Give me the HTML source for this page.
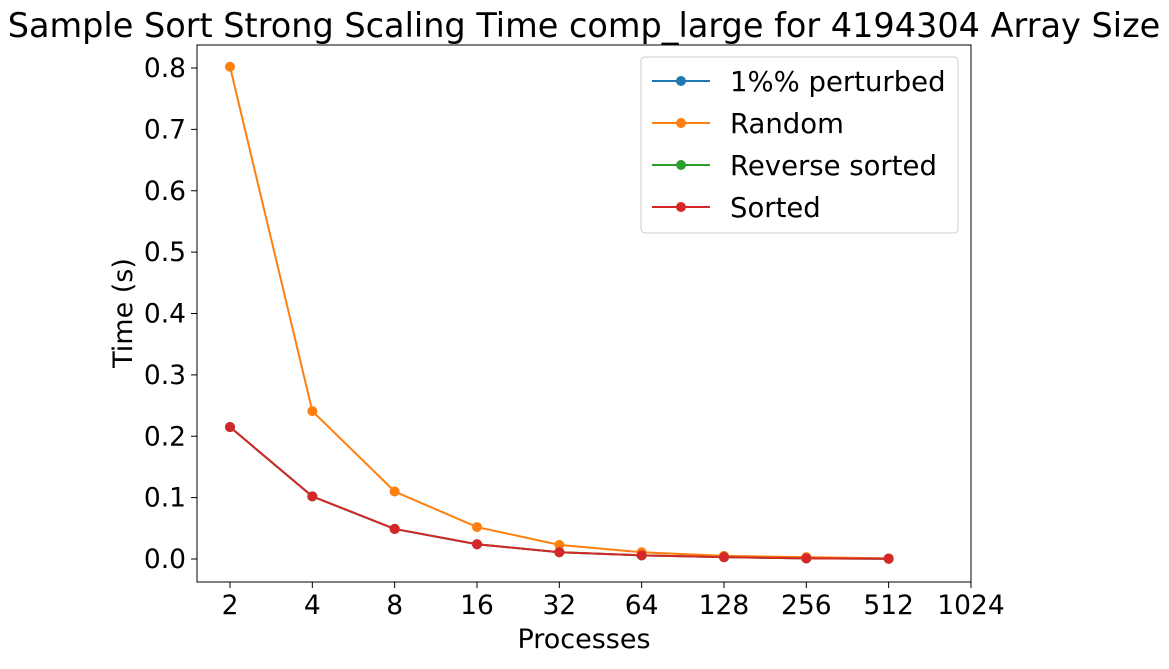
<!DOCTYPE html>
<html><head><meta charset="utf-8"><style>
body{margin:0;background:#fff;}
svg text{font-family:"DejaVu Sans","Liberation Sans",sans-serif;fill:#000;}
</style></head><body>
<svg id="chart" width="1169" height="664" xmlns="http://www.w3.org/2000/svg">
<text x="584" y="37" font-size="33.5" text-anchor="middle">Sample Sort Strong Scaling Time comp_large for 4194304 Array Size</text>
<rect x="197" y="45" width="774" height="537" fill="none" stroke="#000" stroke-width="1"/>
<g id="xticks"></g><g id="yticks"></g><g id="series"></g>
<text x="584" y="648" font-size="27" text-anchor="middle">Processes</text>
<text transform="translate(132,313) rotate(-90)" font-size="27" text-anchor="middle">Time (s)</text>
<g>
<rect x="641" y="57" width="317" height="176" rx="4" fill="#fff" fill-opacity="0.8" stroke="#ccc"/>
<g id="legend-items"></g>
</g>
</svg>
<script>
const xCats=[2,4,8,16,32,64,128,256,512];
const xTickLabels=["2","4","8","16","32","64","128","256","512","1024"];
const yTickLabels=["0.0","0.1","0.2","0.3","0.4","0.5","0.6","0.7","0.8"];
const seriesNames=["1%% perturbed","Random","Reverse sorted","Sorted"];
const colors=["#1f77b4","#ff7f0e","#2ca02c","#d62728"];
const perturbed=[0.215,0.102,0.049,0.024,0.011,0.006,0.003,0.001,0.0005];
const randomV=[0.802,0.241,0.110,0.052,0.023,0.011,0.005,0.003,0.001];
const reverse=[0.215,0.102,0.049,0.024,0.011,0.006,0.003,0.001,0.0005];
const sorted=[0.215,0.102,0.049,0.024,0.011,0.006,0.003,0.001,0.0005];
const allSeries=[perturbed,randomV,reverse,sorted];
const NS="http://www.w3.org/2000/svg";
const xs=v=>230+(Math.log2(v)-1)*82.33;
const ys=v=>559-v*613.75;
function mk(t,a,p){const e=document.createElementNS(NS,t);for(const k in a)e.setAttribute(k,a[k]);p.appendChild(e);return e;}
const xt=document.getElementById('xticks');
xTickLabels.forEach(l=>{const x=xs(+l);
const t=mk('line',{x1:x,x2:x,y1:582,y2:588,stroke:'#000'},xt);


const tx=mk('text',{x:x,y:614,'font-size':26.5,'text-anchor':'middle'},xt);tx.textContent=l;

});
const yt=document.getElementById('yticks');
yTickLabels.forEach(l=>{const y=ys(+l);
const t=mk('line',{x1:191,x2:197,y1:y,y2:y,stroke:'#000'},yt);


const tx=mk('text',{x:186,y:y+9,'font-size':26.5,'text-anchor':'end'},yt);tx.textContent=l;

});
const sg=document.getElementById('series');
allSeries.forEach((s,i)=>{const g=mk('g',{},sg);


const pl=mk('polyline',{points:s.map((v,j)=>xs(xCats[j])+','+ys(v)).join(' '),fill:'none',stroke:colors[i],'stroke-width':2},g);


s.forEach((v,j)=>{const c=mk('circle',{cx:xs(xCats[j]),cy:ys(v),r:5,fill:colors[i]},g);

});});
const lg=document.getElementById('legend-items');
seriesNames.forEach((n,i)=>{const y=81+i*42;const g=mk('g',{},lg);


mk('line',{x1:652,x2:710,y1:y,y2:y,stroke:colors[i],'stroke-width':2},g);
mk('circle',{cx:681,cy:y,r:5,fill:colors[i]},g);
const t=mk('text',{x:730,y:y+10,'font-size':27.5},g);t.textContent=n;});
</script>
</body></html>
